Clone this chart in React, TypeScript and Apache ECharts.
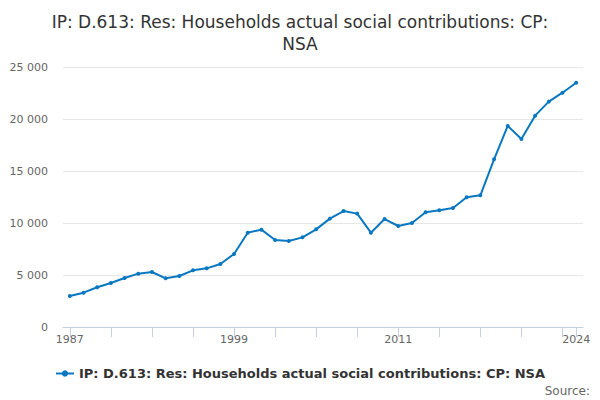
import React, { useEffect, useRef } from 'react';
import * as echarts from 'echarts';

const years: string[] = [];
for (let y = 1987; y <= 2024; y++) years.push(String(y));

const values = [
  2980, 3300, 3820, 4230, 4710, 5130, 5290, 4680, 4900, 5450,
  5640, 6060, 7020, 9070, 9360, 8370, 8270, 8620, 9390, 10420,
  11150, 10900, 9070, 10380, 9710, 10000, 11030, 11220, 11440, 12470,
  12660, 16120, 19330, 18080, 20320, 21670, 22530, 23490,
];

const labelYears = ['1987', '1999', '2011', '2024'];

const seriesName = 'IP: D.613: Res: Households actual social contributions: CP: NSA';
const titleText = 'IP: D.613: Res: Households actual social contributions: CP:\nNSA';

const font = 'DejaVu Sans, Verdana, sans-serif';
const lineColor = '#0a78c0';

const App: React.FC = () => {
  const chartRef = useRef<HTMLDivElement>(null);

  useEffect(() => {
    if (!chartRef.current) return;
    document.body.style.margin = '0';
    const chart = echarts.init(chartRef.current, undefined, { renderer: 'svg' });

    chart.setOption({
      animation: false,
      textStyle: { fontFamily: font },
      title: {
        text: titleText,
        left: 'center',
        top: 6,
        textStyle: { fontSize: 17, fontWeight: 'normal', color: '#333', lineHeight: 22, fontFamily: font },
      },
      legend: {
        bottom: 15,
        left: 'center',
        itemWidth: 18,
        itemHeight: 8,
        textStyle: { fontSize: 13, fontWeight: 'bold', color: '#333', fontFamily: font },
        data: [seriesName],
      },
      graphic: [
        {
          type: 'text',
          right: 10,
          bottom: 3,
          style: { text: 'Source:', fontSize: 12, fill: '#666', fontFamily: font },
        },
      ],
      grid: { left: 63, right: 17, top: 67, bottom: 73, containLabel: false },
      xAxis: {
        type: 'category',
        data: years,
        boundaryGap: true,
        axisLine: { lineStyle: { color: '#c5d0e6' } },
        axisTick: {
          show: true,
          alignWithLabel: true,
          length: 10,
          lineStyle: { color: '#c5d0e6' },
          interval: (i: number) => i % 3 === 0 || i === years.length - 1,
        },
        axisLabel: {
          color: '#666',
          fontSize: 11,
          margin: 7,
          interval: (i: number, v: string) => labelYears.includes(v),
        },
      },
      yAxis: {
        type: 'value',
        min: 0,
        max: 25000,
        interval: 5000,
        axisLine: { show: false },
        axisTick: { show: false },
        splitLine: { lineStyle: { color: '#e6e6e6' } },
        axisLabel: {
          color: '#666',
          fontSize: 11,
          margin: 15,
          formatter: (v: number) => (v >= 1000 ? String(v).replace(/\B(?=(\d{3})+(?!\d))/g, ' ') : String(v)),
        },
      },
      series: [
        {
          name: seriesName,
          type: 'line',
          data: values,
          color: lineColor,
          symbol: 'circle',
          symbolSize: 4,
          lineStyle: { width: 2, color: lineColor },
          itemStyle: { color: lineColor },
        },
      ],
    });

    return () => chart.dispose();
  }, []);

  return <div ref={chartRef} style={{ width: '600px', height: '400px' }} />;
};

export default App;
